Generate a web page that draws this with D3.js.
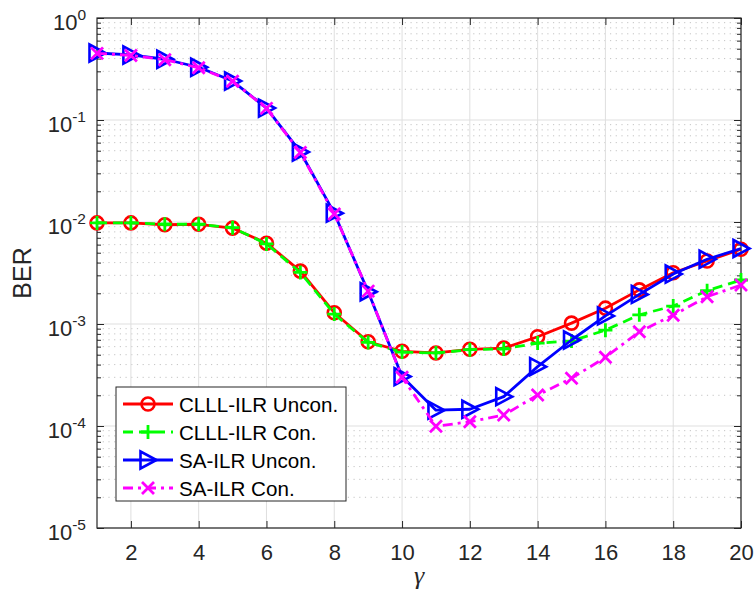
<!DOCTYPE html>
<html><head><meta charset="utf-8">
<script src="https://cdn.jsdelivr.net/npm/d3@7"></script>
<style>body{margin:0;background:#fff}</style>
</head><body><svg id="c" width="754" height="599"></svg>
<script>
const gammaVals = [1,2,3,4,5,6,7,8,9,10,11,12,13,14,15,16,17,18,19,20];
const clllUncon = [0.0098,0.0098,0.0094,0.0095,0.0087,0.0062,0.0033,0.00129,0.00067,0.00054,0.00052,0.000565,0.00058,0.00075,0.00102,0.00143,0.00216,0.00318,0.00415,0.0054];
const clllCon   = [0.0098,0.0098,0.0095,0.0095,0.0088,0.0061,0.0032,0.00125,0.00066,0.00053,0.00052,0.00056,0.00057,0.00065,0.00068,0.00087,0.00123,0.0015,0.00212,0.0027];
const saUncon   = [0.454,0.434,0.394,0.329,0.241,0.131,0.0486,0.0122,0.00207,0.000305,0.000143,0.000146,0.000194,0.000382,0.000697,0.0012,0.00195,0.00309,0.00431,0.0055];
const saCon     = [0.45,0.43,0.39,0.325,0.24,0.13,0.048,0.012,0.0021,0.0003,0.0000995,0.00011,0.000128,0.000201,0.000294,0.000471,0.00084,0.00122,0.00185,0.00241];
const seriesNames = ["CLLL-ILR Uncon.","CLLL-ILR Con.","SA-ILR Uncon.","SA-ILR Con."];
const xTicks = [2,4,6,8,10,12,14,16,18,20];
const yExponents = [0,-1,-2,-3,-4,-5];

const svg = d3.select("#c");
const L=97, R=741, T=18, B=528;
const x = d3.scaleLinear().domain([1,20]).range([L,R]);
const y = d3.scaleLog().domain([1e-5,1]).range([B,T]);
const axisCol="#262626", gridCol="#dfdfdf";
const font="'Liberation Sans', Arial, Helvetica, sans-serif";

// minor grid (dotted)
const minorVals=[];
for(let e=-5;e<0;e++) for(let k=2;k<=9;k++) minorVals.push(k*Math.pow(10,e));
svg.append("g").selectAll("line").data(minorVals).join("line")
  .attr("x1",L).attr("x2",R).attr("y1",d=>y(d)).attr("y2",d=>y(d))
  .attr("stroke","#c4c4c4").attr("stroke-width",1).attr("stroke-dasharray","1.2,4.5");
// major grid
svg.append("g").selectAll("line").data(yExponents.map(e=>Math.pow(10,e))).join("line")
  .attr("x1",L).attr("x2",R).attr("y1",d=>y(d)).attr("y2",d=>y(d))
  .attr("stroke",gridCol).attr("stroke-width",1);
svg.append("g").selectAll("line").data(xTicks).join("line")
  .attr("x1",d=>x(d)).attr("x2",d=>x(d)).attr("y1",T).attr("y2",B)
  .attr("stroke",gridCol).attr("stroke-width",1);

// axes with d3 axis (inward ticks)
const xb = svg.append("g").attr("transform",`translate(0,${B})`)
  .call(d3.axisBottom(x).tickValues(xTicks).tickSizeInner(-7).tickSizeOuter(0).tickPadding(16));
const xt = svg.append("g").attr("transform",`translate(0,${T})`)
  .call(d3.axisTop(x).tickValues(xTicks).tickSizeInner(-7).tickSizeOuter(0).tickFormat(""));
const yl = svg.append("g").attr("transform",`translate(${L},0)`)
  .call(d3.axisLeft(y).tickValues(yExponents.map(e=>Math.pow(10,e))).tickSizeInner(-7).tickSizeOuter(0).tickFormat(""));
const yr = svg.append("g").attr("transform",`translate(${R},0)`)
  .call(d3.axisRight(y).tickValues(yExponents.map(e=>Math.pow(10,e))).tickSizeInner(-7).tickSizeOuter(0).tickFormat(""));
const ylm = svg.append("g").attr("transform",`translate(${L},0)`)
  .call(d3.axisLeft(y).tickValues(minorVals).tickSizeInner(-4).tickSizeOuter(0).tickFormat(""));
const yrm = svg.append("g").attr("transform",`translate(${R},0)`)
  .call(d3.axisRight(y).tickValues(minorVals).tickSizeInner(-4).tickSizeOuter(0).tickFormat(""));
[xb,xt,yl,yr,ylm,yrm].forEach(g=>{
  g.select(".domain").remove();
  g.selectAll("line").attr("stroke",axisCol).attr("stroke-width",1);
});
xb.selectAll("text").attr("fill",axisCol).style("font-family",font).style("font-size","22px").attr("dy","0.71em");
// box
svg.append("rect").attr("x",L).attr("y",T).attr("width",R-L).attr("height",B-T)
  .attr("fill","none").attr("stroke",axisCol).attr("stroke-width",1.2);

// y tick labels 10^e
const yLab = svg.append("g").selectAll("text").data(yExponents).join("text")
  .attr("x",L-11).attr("y",d=>y(Math.pow(10,d))+12).attr("text-anchor","end")
  .attr("fill",axisCol).style("font-family",font).style("font-size","22px");
yLab.append("tspan").text("10");
yLab.append("tspan").attr("dy",-10).style("font-size","15.5px").text(d=>d===0?"0":"-"+(-d));

// axis labels
svg.append("text").attr("transform",`translate(31,${(T+B)/2}) rotate(-90)`).attr("text-anchor","middle")
  .attr("fill",axisCol).style("font-family",font).style("font-size","25px").text("BER");
svg.append("text").attr("x",(L+R)/2).attr("y",584).attr("text-anchor","middle")
  .attr("fill",axisCol).style("font-family","'Liberation Serif','Times New Roman',serif").style("font-style","italic").style("font-size","26px").text("γ");

// series
const seriesData=[clllUncon,clllCon,saUncon,saCon];
const colors=["#ff0000","#00ff00","#0000ff","#ff00ff"];
const dashes=[null,"10,6",null,"10,5,3,5"];
const markers=["circle","plus","tri","cross"];
const line=d3.line().x((d,i)=>x(gammaVals[i])).y(d=>y(d));
function drawMarker(g,type,col){
  if(type==="circle") g.append("circle").attr("r",6.5).attr("fill","none").attr("stroke",col).attr("stroke-width",2.6);
  else if(type==="plus") g.append("path").attr("d","M-7,0H7M0,-7V7").attr("stroke",col).attr("stroke-width",2.8).attr("fill","none");
  else if(type==="tri") g.append("path").attr("d","M-7.5,-8.5L-7.5,8.5L8.5,0Z").attr("stroke",col).attr("stroke-width",2.6).attr("fill","none").attr("stroke-linejoin","miter");
  else g.append("path").attr("d","M-6,-6L6,6M-6,6L6,-6").attr("stroke",col).attr("stroke-width",2.8).attr("fill","none");
}
seriesData.forEach((s,k)=>{
  const g=svg.append("g");
  g.append("path").datum(s).attr("d",line).attr("fill","none").attr("stroke",colors[k])
    .attr("stroke-width",2.8).attr("stroke-dasharray",dashes[k]).attr("stroke-linejoin","round");
  g.selectAll("g.m").data(s).join("g").attr("class","m")
    .attr("transform",(d,i)=>`translate(${x(gammaVals[i])},${y(d)})`)
    .each(function(){drawMarker(d3.select(this),markers[k],colors[k]);});
});

// legend
const lg=svg.append("g");
lg.append("rect").attr("x",116).attr("y",387).attr("width",230).attr("height",114)
  .attr("fill","#fff").attr("stroke",axisCol).attr("stroke-width",1);
seriesNames.forEach((n,k)=>{
  const yy=404+k*28;
  lg.append("line").attr("x1",123).attr("x2",173).attr("y1",yy).attr("y2",yy)
    .attr("stroke",colors[k]).attr("stroke-width",2.8).attr("stroke-dasharray",dashes[k]);
  const m=lg.append("g").attr("transform",`translate(148,${yy})`);
  drawMarker(m,markers[k],colors[k]);
  lg.append("text").attr("x",179).attr("y",yy+7.5).attr("fill","#000").style("font-family",font).style("font-size","20.6px").text(n);
});
</script></body></html>
